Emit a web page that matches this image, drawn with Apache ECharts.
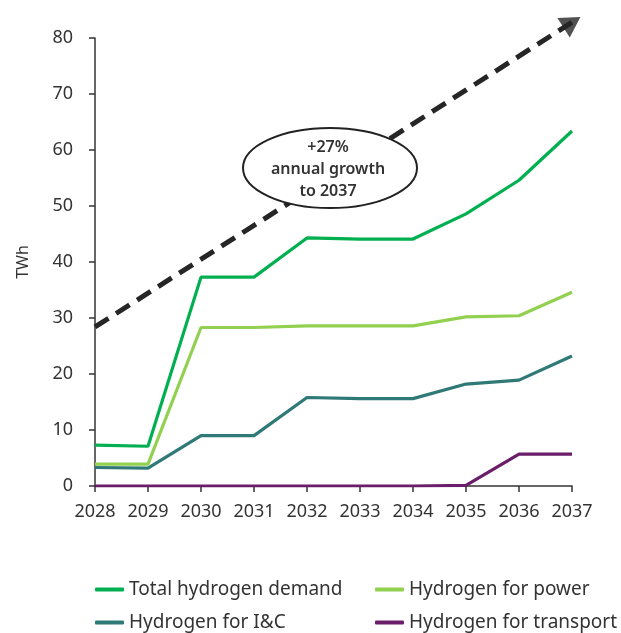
<!DOCTYPE html>
<html lang="en">
<head>
    <meta charset="UTF-8">
    <title>Hydrogen demand</title>
    <script src="https://cdn.jsdelivr.net/npm/echarts@6/dist/echarts.min.js"></script>
    <style>
        html, body { margin: 0; padding: 0; background: #fff; }
        #chart { width: 621px; height: 633px; }
    </style>
</head>
<body>
    <div id="chart"></div>
    <script>
        // data
        const years = ['2028', '2029', '2030', '2031', '2032', '2033', '2034', '2035', '2036', '2037'];
        const totalDemand = [7.3, 7.1, 37.3, 37.3, 44.3, 44.1, 44.1, 48.6, 54.6, 63.4];
        const powerDemand = [3.9, 3.9, 28.3, 28.3, 28.6, 28.6, 28.6, 30.2, 30.4, 34.6];
        const icDemand = [3.3, 3.2, 9.0, 9.0, 15.8, 15.6, 15.6, 18.2, 18.9, 23.2];
        const transportDemand = [0, 0, 0, 0, 0, 0, 0, 0.1, 5.7, 5.7];
        const growthStart = 28.4;   // dashed trend arrow at 2028
        const growthEnd = 82.8;     // arrow head centre at 2037 (beyond axis top)
        const yTicks = [0, 10, 20, 30, 40, 50, 60, 70, 80];

        const textColor = '#333';
        const font = 'Noto Sans';
        const arrowColor = '#262626';

        const chart = echarts.init(document.getElementById('chart'));

        function lineSeries(name, data, color) {
            return {
                name: name,
                type: 'line',
                data: data,
                symbol: 'none',
                lineStyle: { color: color, width: 3.2 },
                itemStyle: { color: color },
                z: 3
            };
        }

        const lastIdx = years.length - 1;

        const option = {
            animation: false,
            textStyle: { fontFamily: font },
            grid: { left: 95, right: 49, top: 38, bottom: 147 },
            xAxis: {
                type: 'category',
                data: years,
                boundaryGap: false,
                axisLine: { lineStyle: { color: textColor, width: 1.5 } },
                axisTick: { alignWithLabel: true, length: 6, lineStyle: { color: textColor, width: 1.5 } },
                axisLabel: { color: textColor, fontSize: 18, margin: 17, interval: 0, fontFamily: font }
            },
            yAxis: {
                type: 'value',
                min: yTicks[0],
                max: yTicks[yTicks.length - 1],
                interval: 10,
                name: 'TWh',
                nameLocation: 'middle',
                nameGap: 64,
                nameRotate: 90,
                nameTextStyle: { color: textColor, fontSize: 16, fontFamily: font },
                splitLine: { show: false },
                axisLine: { show: true, lineStyle: { color: textColor, width: 1.5 } },
                axisTick: { show: true, length: 6, lineStyle: { color: textColor, width: 1.5 } },
                axisLabel: { color: textColor, fontSize: 18, margin: 22, fontFamily: font }
            },
            legend: [
                {
                    left: 90, top: 575, height: 120, orient: 'vertical', itemGap: 14,
                    itemWidth: 29, itemHeight: 4, icon: 'roundRect',
                    textStyle: { color: textColor, fontSize: 19, fontFamily: font },
                    data: ['Total hydrogen demand', 'Hydrogen for I&C']
                },
                {
                    left: 370, top: 575, height: 120, orient: 'vertical', itemGap: 14,
                    itemWidth: 29, itemHeight: 4, icon: 'roundRect',
                    textStyle: { color: textColor, fontSize: 19, fontFamily: font },
                    data: ['Hydrogen for power', 'Hydrogen for transport']
                }
            ],
            series: [
                {
                    name: 'growth',
                    type: 'line',
                    data: [[0, growthStart], [lastIdx, growthEnd]],
                    symbol: 'none',
                    clip: false,
                    silent: true,
                    lineStyle: { color: arrowColor, width: 5, type: [16, 9] },
                    z: 2
                },
                {
                    name: 'growthHead',
                    type: 'scatter',
                    data: [[lastIdx, growthEnd]],
                    symbol: 'triangle',
                    symbolSize: [23, 20],
                    symbolRotate: 0,
                    clip: false,
                    silent: true,
                    itemStyle: { color: arrowColor },
                    z: 2
                },
                lineSeries('Total hydrogen demand', totalDemand, '#00b050'),
                lineSeries('Hydrogen for power', powerDemand, '#92d050'),
                lineSeries('Hydrogen for I&C', icDemand, '#2f7a76'),
                lineSeries('Hydrogen for transport', transportDemand, '#6a1e6a')
            ],
            graphic: [
                {
                    type: 'ellipse',
                    shape: { cx: 330, cy: 168, rx: 87, ry: 40 },
                    style: { fill: '#fff', stroke: '#222', lineWidth: 2 },
                    z: 10
                },
                {
                    type: 'text',
                    x: 328, y: 169,
                    style: {
                        text: '+27%\nannual growth\nto 2037',
                        fill: '#333',
                        font: '600 16px "Noto Sans"',
                        lineHeight: 22,
                        align: 'center',
                        verticalAlign: 'middle'
                    },
                    z: 11
                }
            ]
        };
        chart.setOption(option);

        // point the arrow head along the dashed line
        const p0 = chart.convertToPixel({ seriesIndex: 0 }, [0, growthStart]);
        const p1 = chart.convertToPixel({ seriesIndex: 0 }, [lastIdx, growthEnd]);
        const ang = Math.atan2(p0[1] - p1[1], p1[0] - p0[0]) * 180 / Math.PI;
        chart.setOption({ series: [{}, { symbolRotate: ang - 90 }] });
    </script>
</body>
</html>
